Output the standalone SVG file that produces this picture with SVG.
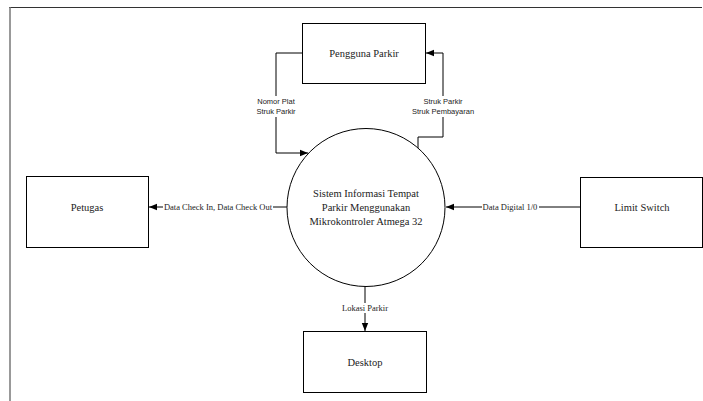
<svg xmlns="http://www.w3.org/2000/svg" width="703" height="401" viewBox="0 0 703 401">
<defs>
<style>
.box{fill:#fff;stroke:#000;stroke-width:1}
.t{font-family:"Liberation Serif","Times New Roman",serif;font-size:10.5px;fill:#222;text-anchor:middle}
.lt{font-family:"Liberation Serif","Times New Roman",serif;font-size:8.5px;fill:#222;text-anchor:middle}
.ls{font-family:"Liberation Sans",Arial,sans-serif;font-size:7.5px;fill:#222;text-anchor:middle}
.c{fill:none;stroke:#000;stroke-width:1}
.bg{fill:#fff}
</style>
<marker id="ah" viewBox="0 0 10 10" refX="10" refY="5" markerWidth="8" markerHeight="8" markerUnits="userSpaceOnUse" orient="auto">
<path d="M0,1 L10,5 L0,9 Z" fill="#000"/>
</marker>
</defs>
<rect width="703" height="401" fill="#fff"/>
<g id="page">
<line x1="9" y1="7.5" x2="702" y2="7.5" stroke="#333" stroke-width="1.2"/>
<line x1="10" y1="7" x2="10" y2="401" stroke="#777" stroke-width="1.5"/>
</g>
<g id="connectors">
<polyline class="c" points="302,53 276,53 276,153 308,153" marker-end="url(#ah)"/>
<polyline class="c" points="418,158 418,137 443,137 443,53 426,53" marker-end="url(#ah)"/>
<line class="c" x1="287" y1="207" x2="149" y2="207" marker-end="url(#ah)"/>
<line class="c" x1="580" y1="207" x2="446" y2="207" marker-end="url(#ah)"/>
<line class="c" x1="365" y1="285" x2="365" y2="331" marker-end="url(#ah)"/>
<rect class="bg" x="250" y="96" width="52" height="21"/>
<text class="ls" x="276" y="104">Nomor Plat</text>
<text class="ls" x="276" y="114">Struk Parkir</text>
<rect class="bg" x="412" y="96" width="62" height="21"/>
<text class="ls" x="443" y="104">Struk Parkir</text>
<text class="ls" x="443" y="114">Struk Pembayaran</text>
<rect class="bg" x="163" y="202" width="110" height="10"/>
<text class="lt" x="218" y="210">Data Check In, Data Check Out</text>
<rect class="bg" x="482" y="202" width="57" height="10"/>
<text class="lt" x="510" y="210">Data Digital 1/0</text>
<rect class="bg" x="338" y="303" width="54" height="10"/>
<text class="lt" x="365" y="311">Lokasi Parkir</text>
</g>
<g id="pengguna">
<rect class="box" x="302.5" y="23.5" width="123" height="60"/>
<text class="t" x="364" y="57">Pengguna Parkir</text>
</g>
<g id="sistem">
<circle class="box" cx="366" cy="207.5" r="79"/>
<text class="t" x="366" y="197">Sistem Informasi Tempat</text>
<text class="t" x="366" y="211">Parkir Menggunakan</text>
<text class="t" x="366" y="225">Mikrokontroler Atmega 32</text>
</g>
<g id="petugas">
<rect class="box" x="26.5" y="176.5" width="122" height="71"/>
<text class="t" x="87" y="211">Petugas</text>
</g>
<g id="limit">
<rect class="box" x="580.5" y="177.5" width="122" height="70"/>
<text class="t" x="642" y="211">Limit Switch</text>
</g>
<g id="desktop">
<rect class="box" x="303.5" y="331.5" width="123" height="61"/>
<text class="t" x="365" y="366">Desktop</text>
</g>
</svg>
